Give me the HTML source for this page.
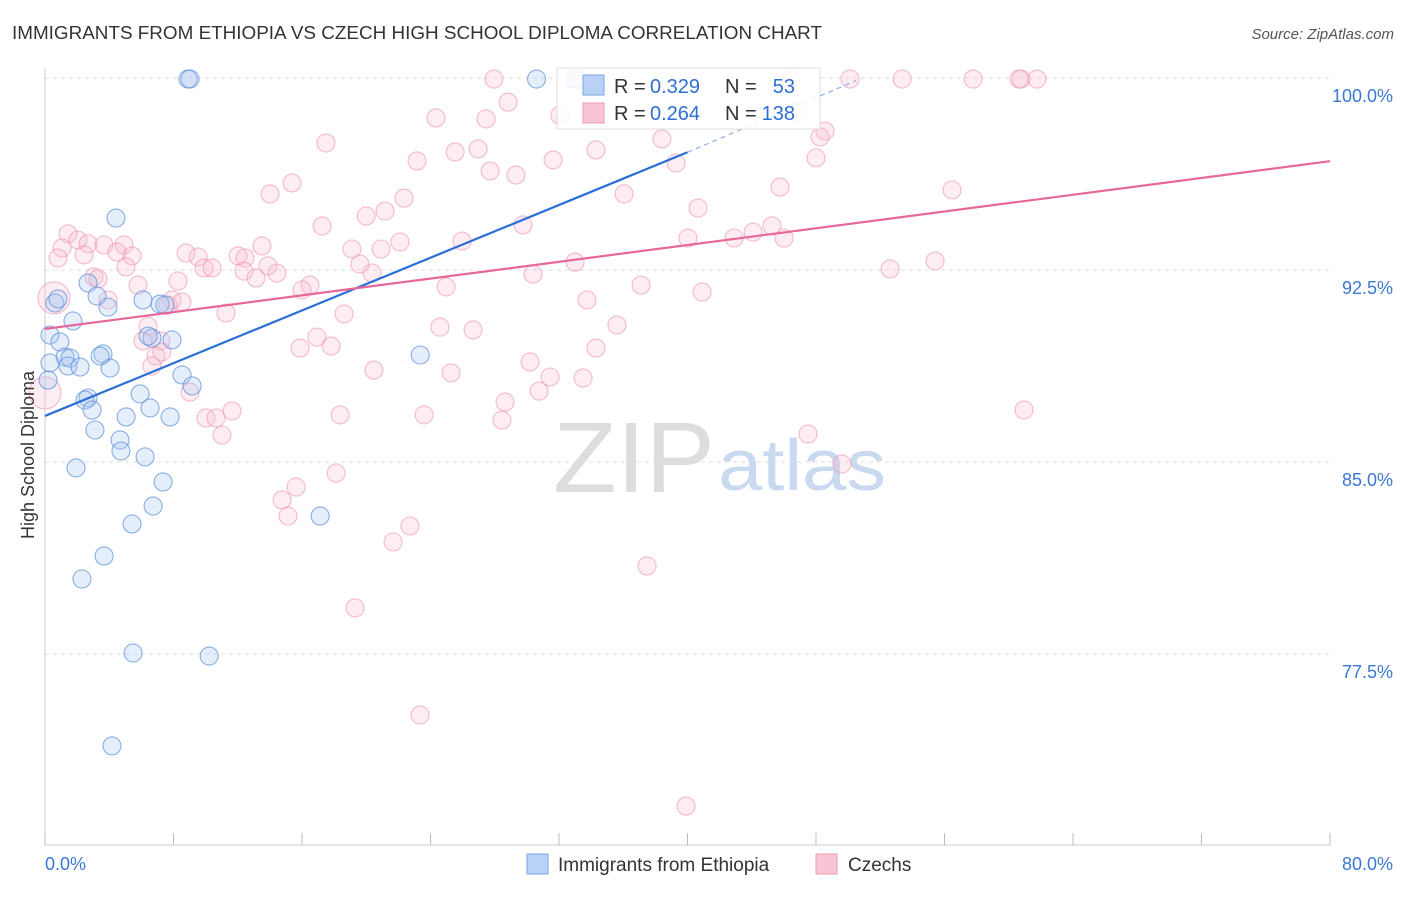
<!DOCTYPE html>
<html><head><meta charset="utf-8"><style>
body{margin:0;background:#fff;font-family:"Liberation Sans",sans-serif;}
svg text{font-family:"Liberation Sans",sans-serif;}
</style></head><body>
<svg id="chart" width="1406" height="892" xmlns="http://www.w3.org/2000/svg">
<text x="12" y="39" font-size="18" fill="#333" textLength="810" lengthAdjust="spacingAndGlyphs">IMMIGRANTS FROM ETHIOPIA VS CZECH HIGH SCHOOL DIPLOMA CORRELATION CHART</text>
<text x="1394" y="39" font-size="15" fill="#555" text-anchor="end" font-style="italic">Source: ZipAtlas.com</text>
<text x="553" y="492" font-size="100" fill="#ddd" font-family="Liberation Serif" textLength="162" lengthAdjust="spacingAndGlyphs">ZIP</text>
<text x="718" y="490" font-size="72" fill="#c9d9f0" textLength="168" lengthAdjust="spacingAndGlyphs">atlas</text>
<g id="grid"></g><g id="axes"></g><g id="pts"></g><g id="lines"></g>
<g>
<rect x="557" y="68" width="263" height="61" fill="#fff" fill-opacity="0.85" stroke="#ddd"/>
<rect x="583" y="75" width="21" height="20" fill="#b8d1f5" stroke="#7aa6e6"/>
<rect x="583" y="103" width="21" height="20" fill="#f9c5d4" stroke="#ee9ab2"/>
<text x="614" y="93" font-size="20" fill="#333">R =</text>
<text x="650" y="93" font-size="20" fill="#2d6fd6">0.329</text>
<text x="725" y="93" font-size="20" fill="#333">N =</text>
<text x="795" y="93" font-size="20" fill="#2d6fd6" text-anchor="end">53</text>
<text x="614" y="120" font-size="20" fill="#333">R =</text>
<text x="650" y="120" font-size="20" fill="#2d6fd6">0.264</text>
<text x="725" y="120" font-size="20" fill="#333">N =</text>
<text x="795" y="120" font-size="20" fill="#2d6fd6" text-anchor="end">138</text>
</g>
<g>
<rect x="527" y="854" width="21" height="20" fill="#b8d1f5" stroke="#7aa6e6"/>
<text x="558" y="871" font-size="19" fill="#333">Immigrants from Ethiopia</text>
<rect x="816" y="854" width="21" height="20" fill="#f9c5d4" stroke="#ee9ab2"/>
<text x="848" y="871" font-size="19" fill="#333">Czechs</text>
</g>
<text transform="translate(34,455) rotate(-90)" font-size="18" fill="#333" text-anchor="middle">High School Diploma</text>
</svg>
<script>
const yTicks=[100,92.5,85,77.5];
const yTickLabels=["100.0%","92.5%","85.0%","77.5%"];
const xTickLabels=["0.0%","80.0%"];
const blueX=[8.9,9.03,30.6,33.0,4.42,0.62,0.81,2.68,3.24,3.92,6.1,7.16,7.47,1.74,0.31,0.93,1.25,1.56,1.43,2.18,3.61,4.05,3.43,6.66,7.91,6.42,8.53,9.16,0.31,0.19,2.68,2.49,2.93,5.92,6.54,5.05,7.79,3.11,4.67,4.73,6.23,1.93,7.35,6.73,5.42,17.13,3.68,2.3,5.48,10.22,4.17,23.36];
const blueY=[99.96,99.96,99.96,99.96,94.53,91.21,91.37,91.99,91.48,91.05,91.33,91.17,91.13,90.51,89.96,89.69,89.10,89.06,88.75,88.71,89.22,88.67,89.14,89.84,89.77,89.92,88.40,87.97,88.87,88.20,87.50,87.42,87.03,87.66,87.11,86.76,86.76,86.25,85.86,85.43,85.20,84.77,84.22,83.28,82.58,82.89,81.33,80.43,77.54,77.42,73.91,89.18];
const pinkX=[27.95,33.18,46.38,50.12,53.36,57.78,60.77,61.76,60.64,28.83,32.06,24.34,27.46,46.88,48.56,48.25,17.49,38.41,34.30,26.96,25.53,31.63,23.16,39.29,48.00,27.71,29.32,15.38,14.01,36.05,22.35,56.47,45.76,40.66,21.17,19.99,17.25,29.76,45.26,44.08,42.90,40.03,46.01,1.43,2.05,2.68,3.67,4.92,1.06,0.81,2.43,4.48,5.42,8.78,19.11,20.92,22.10,25.96,13.51,9.53,12.02,12.45,5.04,9.90,10.40,13.88,3.05,3.30,5.79,8.28,19.61,20.36,12.39,13.14,14.44,30.38,33.00,52.61,55.41,16.50,16.00,24.97,37.11,40.91,33.74,3.92,7.91,7.66,8.53,11.27,0.56,18.62,6.41,35.61,24.59,26.65,16.93,17.81,15.88,6.10,7.22,6.91,6.66,7.28,34.30,30.20,20.48,25.28,31.44,33.50,30.76,9.03,28.64,28.45,11.64,10.02,10.65,18.37,23.60,11.02,47.50,49.62,18.12,15.63,14.76,15.13,22.72,21.67,37.48,19.30,23.35,39.91,60.95,0];
const pinkY=[99.96,99.96,99.96,99.96,99.96,99.96,99.96,99.96,99.96,99.06,98.55,98.44,98.40,98.67,97.93,97.70,97.46,97.62,97.19,97.23,97.11,96.80,96.76,96.68,96.88,96.37,96.21,95.90,95.47,95.47,95.31,95.63,95.74,94.92,94.80,94.61,94.22,94.26,94.22,93.98,93.75,93.75,93.75,93.91,93.67,93.52,93.48,93.48,93.36,92.97,93.09,93.20,93.05,93.16,93.32,93.32,93.59,93.63,93.44,93.01,93.05,92.97,92.62,92.58,92.58,92.66,92.23,92.15,91.91,92.07,92.73,92.38,92.46,92.19,92.38,92.34,92.81,92.54,92.85,91.91,91.72,91.84,91.91,91.64,91.33,91.33,91.33,91.13,91.25,90.82,91.41,90.78,90.31,90.35,90.27,90.16,89.88,89.53,89.45,89.73,89.73,89.14,88.75,89.30,89.45,88.91,88.59,88.48,88.32,88.28,87.77,87.73,87.34,86.64,86.99,86.72,86.72,86.84,86.84,86.05,86.09,84.92,84.57,84.02,83.52,82.89,82.50,81.88,80.94,79.30,75.12,71.56,87.03,87.70];
const blueTrend=[0,86.8,40,97.1,50.5,99.9];
const pinkTrend=[0,90.2,80,96.75];
const NS="http://www.w3.org/2000/svg";
const X=v=>45+v/80*1285, Y=v=>78+(100-v)*25.6;
function mk(tag,attrs,parent){const e=document.createElementNS(NS,tag);for(const k in attrs)e.setAttribute(k,attrs[k]);document.getElementById(parent).appendChild(e);return e;}
yTicks.forEach((t,i)=>{
 const l=mk('line',{x1:45,x2:1330,y1:Y(t),y2:Y(t),stroke:'#ddd','stroke-dasharray':'4,4'},'grid');
 
 
 const tx=mk('text',{x:1393,y:Y(t)+24,'font-size':18,fill:'#3a78d6','text-anchor':'end'},'axes');
 tx.textContent=yTickLabels[i];
 
 
});
const ax=mk('line',{x1:45,x2:1330,y1:845,y2:845,stroke:'#ccc'},'axes');


const ay=mk('line',{x1:45,x2:45,y1:68,y2:845,stroke:'#ccc'},'axes');


for(let i=0;i<=10;i++){const t=mk('line',{x1:X(i*8),x2:X(i*8),y1:833,y2:845,stroke:'#bbb'},'axes');
 
 }
[[0,'start',45],[80,'end',1393]].forEach((d,i)=>{const t=mk('text',{x:d[2],y:870,'font-size':18,fill:'#3a78d6','text-anchor':d[1]},'axes');t.textContent=xTickLabels[i];
 
 });
pinkX.forEach((x,i)=>{const r=(i>=pinkX.length-1||(x<1&&pinkY[i]>91.3&&pinkY[i]<91.5))?16:9;
 const c=mk('circle',{cx:X(x),cy:Y(pinkY[i]),r:r,fill:'#f7b8cb','fill-opacity':0.25,stroke:'#ec8fab','stroke-opacity':0.6,'stroke-width':1.1},'pts');
 
 });
blueX.forEach((x,i)=>{const c=mk('circle',{cx:X(x),cy:Y(blueY[i]),r:9,fill:'#a9c8f2','fill-opacity':0.3,stroke:'#5b8fdc','stroke-opacity':0.7,'stroke-width':1.1},'pts');
 
 });
const bl=mk('line',{x1:X(blueTrend[0]),y1:Y(blueTrend[1]),x2:X(blueTrend[2]),y2:Y(blueTrend[3]),stroke:'#2a6fd8','stroke-width':2.2},'lines');


const bd=mk('line',{x1:X(blueTrend[2]),y1:Y(blueTrend[3]),x2:X(blueTrend[4]),y2:Y(blueTrend[5]),stroke:'#8db0e6','stroke-width':1.2,'stroke-dasharray':'5,4'},'lines');


const pl=mk('line',{x1:X(pinkTrend[0]),y1:Y(pinkTrend[1]),x2:X(pinkTrend[2]),y2:Y(pinkTrend[3]),stroke:'#e8679a','stroke-width':2.2},'lines');


</script>
</body></html>
